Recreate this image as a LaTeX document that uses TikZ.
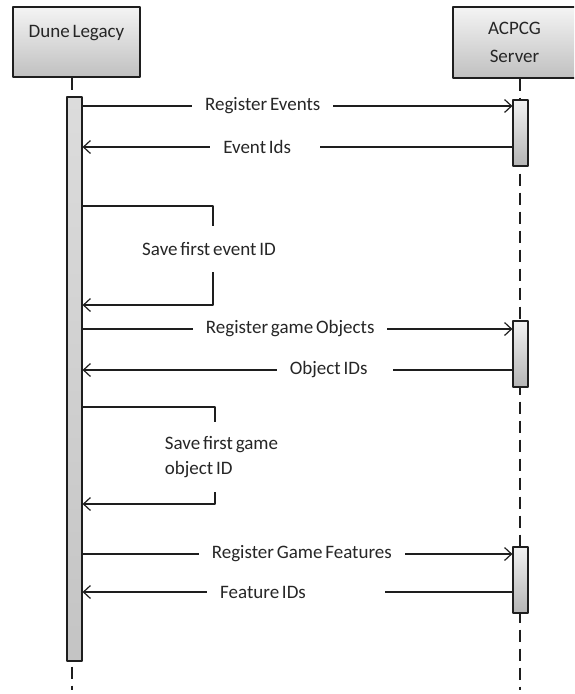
\documentclass[tikz,border=0pt]{standalone}
\usepackage{fontspec}
\setmainfont{Carlito}[WordSpace=0.65]
\usetikzlibrary{arrows.meta}
\definecolor{ln}{HTML}{1E1E1E}
\definecolor{txt}{HTML}{262626}
\definecolor{boxtop}{HTML}{F4F4F4}
\definecolor{boxbot}{HTML}{C0C0C0}
\definecolor{dltop}{HTML}{DCDCDC}
\definecolor{dlbot}{HTML}{C4C4C4}
\definecolor{bartop}{HTML}{F2F2F2}
\definecolor{barbot}{HTML}{B4B4B4}
\begin{document}
\begin{tikzpicture}[>={Straight Barb[length=7pt,width=13pt]}, line join=round, x=1pt, y=-1pt,
    every node/.style={font=\fontsize{19}{25}\selectfont, text=txt},
    lifebox/.style={draw=ln, line width=1.3pt, top color=boxtop, bottom color=boxbot, inner sep=0pt},
    actbar/.style={draw=ln, line width=1.2pt, top color=bartop, bottom color=barbot, minimum width=15pt, inner sep=0pt},
    life/.style={draw=ln, line width=1.2pt, dash pattern=on 12pt off 7pt},
    msg/.style={draw=ln, line width=1.2pt},
    lbl/.style={fill=white, inner xsep=13pt, inner ysep=2pt}]
    \useasboundingbox (0,0) rectangle (574,694);
    \clip (0,0) rectangle (574,694);
    % lifeline heads
    \node[lifebox, minimum width=127pt, minimum height=70pt, text depth=22pt] (dl) at (76.5,42) {Dune Legacy};
    \node[lifebox, minimum width=123pt, minimum height=71pt, align=center] (srv) at (514.5,42.5) {ACPCG\\[3pt]Server};
    \coordinate (dlend) at (72,690);
    \coordinate (srvend) at (520,690);
    \draw[life] (dl.south -| dlend) -- (dlend);
    \draw[life] (srv.south -| srvend) -- (srvend);
    % activation bars
    \node[actbar, top color=dltop, bottom color=dlbot, minimum height=564pt] (dlbar) at (74.5,379) {};
    \node[actbar, minimum height=66pt] (sbar1) at (520.5,133) {};
    \node[actbar, minimum height=66pt] (sbar2) at (520.5,354) {};
    \node[actbar, minimum height=66pt] (sbar3) at (520.5,580) {};
    % events
    \draw[msg,->] (dlbar.east |- 0,106) -- (sbar1.west |- 0,106) node[lbl,pos=.419] {Register Events};
    \draw[msg,->] (sbar1.west |- 0,147) -- (dlbar.east |- 0,147) node[lbl,pos=.575,text width=84pt,align=flush left] {Event Ids};
    \draw[msg,->] (dlbar.east |- 0,206) -- (213,206)
        -- node[fill=white, inner xsep=0pt, minimum height=46pt, xshift=-4pt, pos=.43] (sv1) {Save first event ID} (213,305)
        -- (dlbar.east |- 0,305);
    % objects
    \draw[msg,->] (dlbar.east |- 0,329) -- (sbar2.west |- 0,329) node[lbl,pos=.483] {Register game Objects};
    \draw[msg,->] (sbar2.west |- 0,370) -- (dlbar.east |- 0,370) node[lbl,pos=.413,text width=90pt,align=flush left] {Object IDs};
    \draw[msg,->] (dlbar.east |- 0,407) -- (215,407)
        -- node[fill=white, inner xsep=0pt, minimum height=70pt, xshift=6.5pt, pos=.515, align=left] (sv2) {Save first game\\object ID} (215,504)
        -- (dlbar.east |- 0,504);
    % features
    \draw[msg,->] (dlbar.east |- 0,554) -- (sbar3.west |- 0,554) node[lbl,pos=.51] {Register Game Features};
    \draw[msg,->] (sbar3.west |- 0,592) -- (dlbar.east |- 0,592) node[lbl,pos=.503,text width=152pt,align=flush left] {Feature IDs};
\end{tikzpicture}
\end{document}
